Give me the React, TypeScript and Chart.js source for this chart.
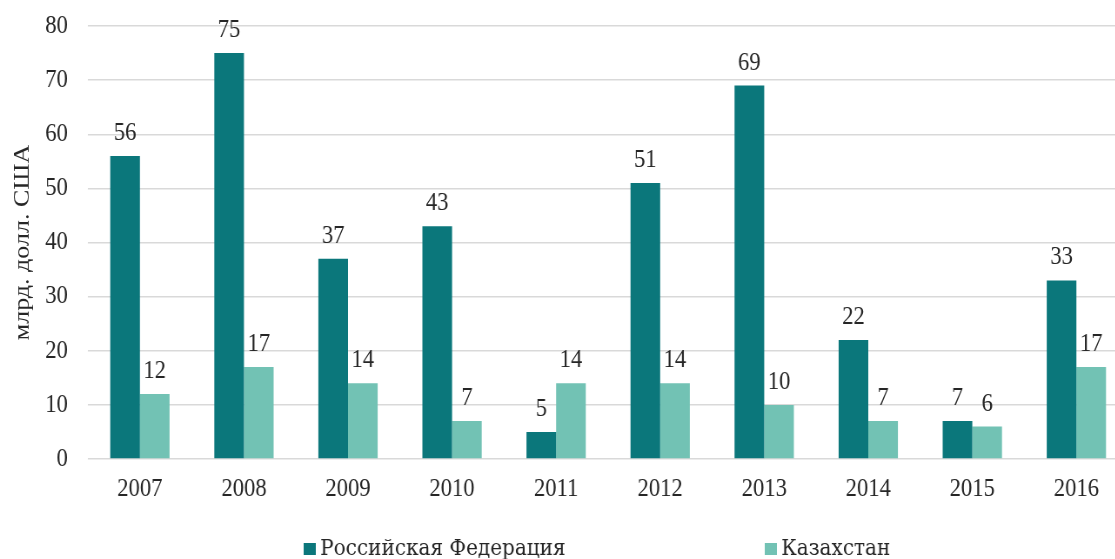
import React, { useEffect, useRef } from "react";
import { Chart, registerables } from "chart.js";

Chart.register(...registerables);

const categories = ["2007", "2008", "2009", "2010", "2011", "2012", "2013", "2014", "2015", "2016"];
const russiaValues = [56, 75, 37, 43, 5, 51, 69, 22, 7, 33];
const kazakhstanValues = [12, 17, 14, 7, 14, 14, 10, 7, 6, 17];
const seriesNames = ["Российская Федерация", "Казахстан"];
const yTitle = "млрд. долл. США";

const DARK = "#0b777b";
const LIGHT = "#72c2b4";
const FONT = "'Liberation Serif', 'Times New Roman', serif";
const LEGEND_FONT = "'DejaVu Serif', serif";
const TEXT = "#262626";
const SX = 0.87; // horizontal squeeze of the reference picture
const W = 1300;
const H = 559;

const labelsPlugin = {
  id: "valueLabels",
  afterDatasetsDraw(chart: any) {
    const ctx = chart.ctx;
    ctx.save();
    ctx.font = `26px ${FONT}`;
    ctx.fillStyle = TEXT;
    ctx.textAlign = "center";
    ctx.textBaseline = "alphabetic";
    chart.data.datasets.forEach((ds: any, di: number) => {
      const meta = chart.getDatasetMeta(di);
      meta.data.forEach((bar: any, i: number) => {
        ctx.fillText(String(ds.data[i]), bar.x, bar.y - 16);
      });
    });
    ctx.restore();
  },
};

const legendPlugin = {
  id: "customLegend",
  afterDraw(chart: any) {
    const ctx = chart.ctx;
    ctx.save();
    ctx.font = `23px ${LEGEND_FONT}`;
    ctx.textBaseline = "middle";
    ctx.textAlign = "left";
    const y = 549;
    const starts = [349, 879];
    chart.data.datasets.forEach((ds: any, di: number) => {
      const x = starts[di];
      ctx.fillStyle = ds.backgroundColor;
      ctx.fillRect(x, y - 6, 14, 12);
      ctx.fillStyle = TEXT;
      ctx.fillText(ds.label, x + 19, y);
    });
    ctx.restore();
  },
};

export default function App() {
  const ref = useRef<HTMLCanvasElement>(null);
  useEffect(() => {
    if (!ref.current) return;
    const chart = new Chart(ref.current, {
      type: "bar",
      data: {
        labels: categories,
        datasets: [
          { label: seriesNames[0], data: russiaValues, backgroundColor: DARK },
          { label: seriesNames[1], data: kazakhstanValues, backgroundColor: LIGHT },
        ],
      },
      options: {
        responsive: false,
        animation: false,
        devicePixelRatio: 1,
        layout: { autoPadding: false, padding: { top: 26, right: 3, left: 0, bottom: 0 } },
        datasets: { bar: { categoryPercentage: 0.57, barPercentage: 1 } },
        plugins: { legend: { display: false }, tooltip: { enabled: false } },
        scales: {
          x: {
            grid: { display: false },
            border: { display: false },
            ticks: { color: TEXT, font: { family: FONT, size: 26 }, padding: 7 },
            afterFit(scale: any) {
              scale.height = 100;
              scale.paddingLeft = 0;
              scale.paddingRight = 0;
            },
          },
          y: {
            min: 0,
            max: 80,
            ticks: { stepSize: 10, color: TEXT, font: { family: FONT, size: 26 }, padding: 23 },
            grid: { color: "#d9d9d9", lineWidth: 1.5, drawTicks: false },
            border: { display: false },
            title: {
              display: true,
              text: yTitle,
              color: TEXT,
              font: { family: FONT, size: 26 },
              padding: { top: 11, bottom: 0 },
            },
            afterFit(scale: any) {
              scale.width = 101;
              scale.paddingTop = 0;
              scale.paddingBottom = 0;
            },
          },
        },
      },
      plugins: [labelsPlugin, legendPlugin],
    });
    return () => chart.destroy();
  }, []);
  return (
    <div style={{ position: "fixed", left: 0, top: 0, width: 1115, height: 559, overflow: "hidden", background: "#fff" }}>
      <canvas
        ref={ref}
        width={W}
        height={H}
        style={{ display: "block", width: W, height: H, transform: `scaleX(${SX})`, transformOrigin: "0 0" }}
      />
    </div>
  );
}
